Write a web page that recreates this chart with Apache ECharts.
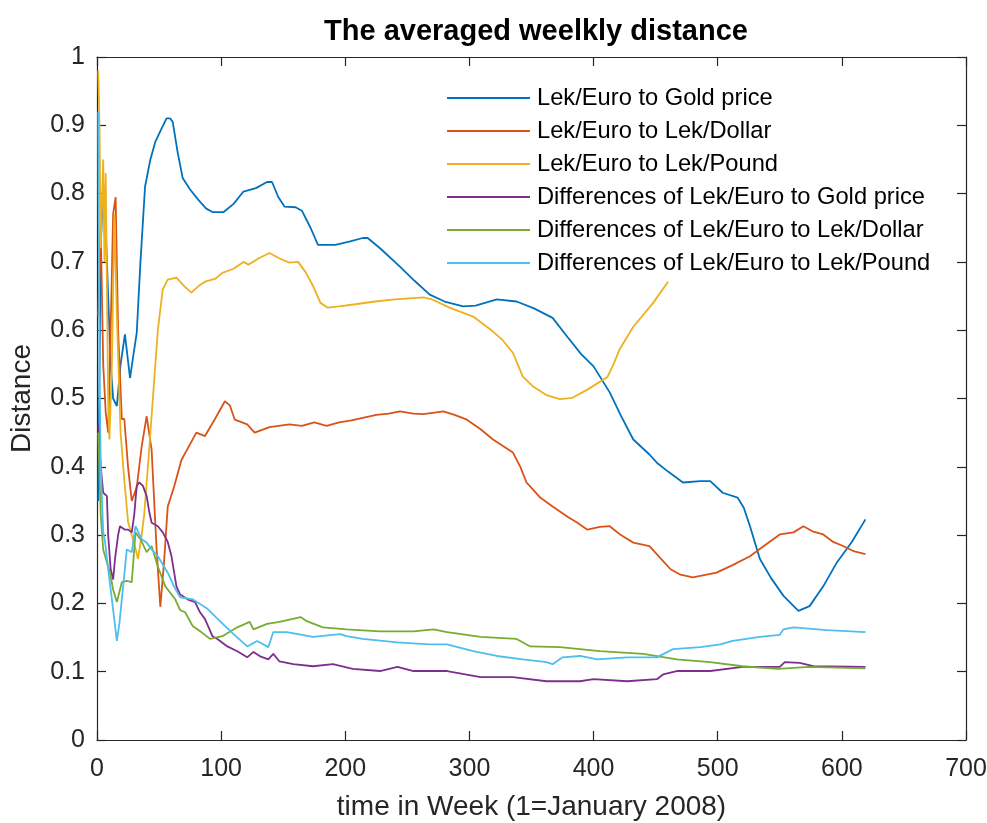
<!DOCTYPE html>
<html>
<head>
<meta charset="utf-8">
<script src="https://cdn.jsdelivr.net/npm/echarts@6/dist/echarts.min.js"></script>
<style>html,body{margin:0;padding:0;background:#fff}#c{width:987px;height:823px}</style>
</head>
<body>
<div id="c"></div>
<script>
const seriesNames = ["Lek/Euro to Gold price","Lek/Euro to Lek/Dollar","Lek/Euro to Lek/Pound","Differences of Lek/Euro to Gold price","Differences of Lek/Euro to Lek/Dollar","Differences of Lek/Euro to Lek/Pound"];
const xTicks = [0,100,200,300,400,500,600,700];

const goldPrice = [[1,0.35],[3,0.72],[5,0.815],[7,0.75],[9,0.65],[11,0.55],[13,0.50],[16,0.489],[19,0.55],[22.5,0.594],[26.6,0.53],[29,0.56],[32,0.596],[35,0.70],[38.7,0.81],[43,0.85],[47,0.876],[52,0.895],[56,0.91],[59,0.91],[61,0.905],[65,0.86],[69,0.823],[75,0.806],[82,0.79],[88,0.778],[93,0.773],[102,0.773],[110,0.785],[118,0.803],[128,0.808],[137,0.817],[141,0.817],[146,0.795],[151,0.781],[160,0.78],[165,0.775],[172,0.75],[178,0.725],[192,0.725],[204,0.73],[214,0.735],[218,0.735],[228,0.72],[244,0.693],[256,0.672],[268,0.652],[280,0.642],[295,0.635],[305,0.636],[322,0.645],[338,0.642],[352,0.632],[367,0.618],[379,0.59],[390,0.565],[400,0.547],[413,0.509],[422,0.475],[432,0.44],[445,0.418],[451,0.406],[460,0.393],[472,0.377],[486,0.379],[494,0.379],[504,0.362],[516,0.355],[521,0.34],[526,0.313],[534,0.265],[543,0.237],[553,0.211],[565,0.189],[574,0.196],[585,0.225],[596,0.26],[608,0.29],[619,0.323]];

const lekDollar = [[1,0.62],[3,0.75],[5,0.55],[7,0.48],[9,0.45],[11,0.60],[13,0.77],[15,0.795],[17,0.60],[20,0.47],[22,0.47],[25,0.40],[28,0.35],[32,0.37],[36,0.43],[40,0.474],[44,0.425],[48,0.28],[51,0.195],[54,0.26],[57,0.342],[62,0.37],[68,0.41],[74,0.43],[80,0.45],[87,0.445],[95,0.47],[103,0.496],[107,0.49],[111,0.469],[121,0.462],[127,0.45],[139,0.458],[155,0.462],[165,0.46],[175,0.465],[185,0.46],[195,0.465],[205,0.468],[215,0.472],[225,0.476],[235,0.478],[244,0.481],[255,0.478],[263,0.477],[279,0.481],[288,0.476],[298,0.469],[309,0.455],[319,0.44],[335,0.421],[341,0.40],[346,0.377],[352,0.365],[357,0.355],[367,0.342],[379,0.327],[387,0.318],[395,0.308],[405,0.312],[413,0.313],[422,0.30],[432,0.289],[445,0.284],[452,0.27],[462,0.25],[470,0.242],[480,0.238],[499,0.245],[512,0.256],[526,0.269],[538,0.285],[550,0.301],[561,0.304],[569,0.313],[577,0.305],[585,0.301],[593,0.29],[601,0.284],[610,0.276],[619,0.272]];

const lekPound = [[1,0.98],[2,0.90],[3,0.72],[5,0.85],[6,0.70],[7,0.83],[9,0.50],[10,0.44],[12,0.55],[14,0.77],[16,0.62],[19,0.45],[22,0.38],[25,0.32],[28,0.30],[31,0.28],[33,0.265],[36,0.30],[38,0.33],[41,0.40],[45,0.50],[49,0.60],[53,0.66],[57,0.674],[64,0.677],[70,0.665],[76,0.655],[82,0.665],[87,0.671],[95,0.675],[101,0.684],[110,0.69],[118,0.70],[122,0.696],[130,0.705],[139,0.713],[147,0.705],[155,0.699],[162,0.70],[168,0.685],[174,0.665],[180,0.64],[186,0.633],[195,0.635],[208,0.638],[224,0.642],[240,0.645],[263,0.648],[270,0.645],[284,0.633],[303,0.62],[319,0.598],[327,0.585],[335,0.567],[343,0.532],[351,0.518],[362,0.505],[373,0.499],[383,0.501],[395,0.513],[411,0.531],[416,0.55],[421,0.572],[432,0.605],[448,0.64],[460,0.671]];

const diffGold = [[1,0.46],[3,0.40],[5,0.362],[8,0.357],[9,0.30],[11,0.25],[13,0.235],[14.5,0.265],[17,0.30],[18.5,0.313],[20,0.313],[22.5,0.308],[25,0.308],[28,0.304],[30,0.33],[32,0.372],[34,0.377],[37,0.372],[40,0.357],[42,0.335],[44,0.318],[49,0.313],[53,0.304],[57,0.29],[60,0.269],[64,0.225],[67,0.213],[73,0.206],[79,0.202],[83,0.187],[87,0.177],[93,0.152],[97,0.148],[105,0.137],[113,0.13],[121,0.121],[126,0.129],[132,0.122],[138,0.118],[142,0.126],[147,0.115],[158,0.111],[174,0.108],[190,0.111],[206,0.104],[228,0.101],[242,0.107],[255,0.101],[282,0.101],[309,0.092],[335,0.092],[362,0.086],[389,0.086],[400,0.089],[427,0.086],[451,0.089],[456,0.096],[467,0.101],[494,0.101],[520,0.107],[550,0.107],[554,0.114],[566,0.113],[577,0.108],[619,0.107]];

const diffDollar = [[1,0.45],[3,0.33],[5,0.279],[8,0.26],[10.5,0.245],[13,0.22],[16,0.202],[20,0.231],[24,0.233],[28,0.231],[31,0.304],[35,0.294],[40,0.275],[44,0.284],[49,0.254],[55,0.225],[63,0.206],[67,0.19],[71,0.187],[77,0.167],[84,0.158],[91,0.148],[101,0.152],[113,0.165],[123,0.173],[126,0.162],[137,0.170],[147,0.173],[164,0.18],[169,0.174],[182,0.165],[201,0.162],[228,0.159],[255,0.159],[271,0.162],[282,0.158],[309,0.151],[338,0.148],[349,0.137],[373,0.136],[389,0.133],[405,0.13],[440,0.126],[467,0.118],[494,0.114],[520,0.108],[548,0.104],[574,0.107],[619,0.105]];

const diffPound = [[1,0.92],[2,0.55],[3,0.40],[5,0.304],[6.5,0.29],[9,0.25],[12,0.206],[16,0.145],[18,0.17],[20,0.206],[24,0.279],[28,0.275],[31,0.313],[36,0.294],[40,0.289],[44,0.279],[49,0.269],[57,0.245],[62,0.225],[67,0.209],[77,0.206],[89,0.192],[99,0.174],[110,0.155],[121,0.137],[129,0.145],[138,0.136],[142,0.158],[153,0.158],[174,0.151],[196,0.155],[201,0.152],[214,0.148],[242,0.143],[268,0.14],[282,0.14],[303,0.13],[322,0.123],[343,0.118],[362,0.114],[367,0.111],[375,0.121],[389,0.123],[403,0.118],[427,0.121],[451,0.121],[464,0.133],[486,0.136],[502,0.14],[512,0.145],[534,0.151],[550,0.154],[553,0.162],[561,0.165],[588,0.161],[619,0.158]];

const allData = [goldPrice, lekDollar, lekPound, diffGold, diffDollar, diffPound];
const colors = ["#0072BD","#D95319","#EDB120","#7E2F8E","#77AC30","#4DBEEE"];
const font = "'Liberation Sans', Arial, Helvetica, sans-serif";
const axisCol = "#262626";

const chart = echarts.init(document.getElementById('c'), null, {renderer:'canvas'});
const axisCommon = {
  axisLine:{show:true,onZero:false,lineStyle:{color:axisCol,width:1.2}},
  axisTick:{show:true,inside:true,length:9,lineStyle:{color:axisCol,width:1.2}},
  splitLine:{show:false}
};
chart.setOption({
  animation:false,
  backgroundColor:'#fff',
  title:{text:'The averaged weelkly distance',left:531,top:12,textAlign:'center',
    textStyle:{fontFamily:font,fontSize:29,fontWeight:'bold',color:'#000'}},
  grid:{left:97,right:21,top:57,bottom:83,containLabel:false,outerBoundsMode:'none'},
  legend:{orient:'vertical',left:447,top:86,padding:0,itemWidth:83,itemHeight:24,itemGap:9,
    icon:'path://M0,0 L83,0 L83,2 L0,2 Z',
    textStyle:{fontFamily:font,fontSize:23.7,color:'#000',padding:[0,0,0,2]},
    data:seriesNames},
  xAxis:[
    Object.assign({type:'value',min:0,max:700,interval:100,position:'bottom',
      name:'time in Week (1=January 2008)',nameLocation:'middle',nameGap:53,
      nameTextStyle:{fontFamily:font,fontSize:28,color:axisCol},
      axisLabel:{fontFamily:font,fontSize:25,color:axisCol,margin:17}},axisCommon),
    Object.assign({type:'value',min:0,max:700,interval:100,position:'top',
      axisLabel:{show:false}},axisCommon)
  ],
  yAxis:[
    Object.assign({type:'value',min:0,max:1,interval:0.1,position:'left',
      name:'Distance',nameLocation:'middle',nameGap:61,
      nameTextStyle:{fontFamily:font,fontSize:28,color:axisCol},
      axisLabel:{fontFamily:font,fontSize:25,color:axisCol,margin:12}},axisCommon),
    Object.assign({type:'value',min:0,max:1,interval:0.1,position:'right',
      axisLabel:{show:false}},axisCommon)
  ],
  series: allData.map((d,i)=>({
    name:seriesNames[i],type:'line',data:d,xAxisIndex:0,yAxisIndex:0,
    symbol:'none',showSymbol:false,smooth:false,
    lineStyle:{color:colors[i],width:1.8},itemStyle:{color:colors[i]}
  }))
});
</script>
</body>
</html>
